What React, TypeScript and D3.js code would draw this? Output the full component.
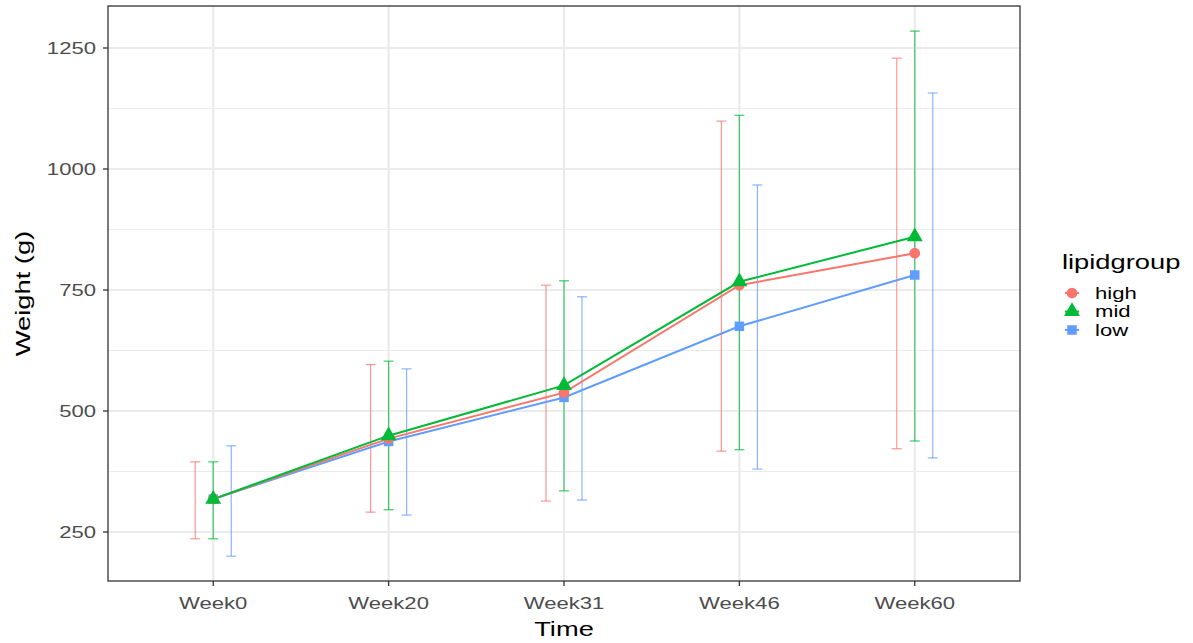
import React, { useEffect, useRef } from 'react';
import * as d3 from 'd3';

const weeks = ['Week0', 'Week20', 'Week31', 'Week46', 'Week60'];
const groups = ['high', 'mid', 'low'];
const groupColors = ['#F8766D', '#00BA38', '#619CFF'];

// mean, lower, upper per week
const highMean = [318, 443, 538, 760, 826];
const highLow = [236, 291, 314, 417, 422];
const highHigh = [395, 596, 760, 1099, 1229];

const midMean = [318, 449, 553, 767, 860];
const midLow = [236, 296, 335, 420, 438];
const midHigh = [395, 603, 769, 1111, 1285];

const lowMean = [318, 437, 528, 675, 781];
const lowLow = [200, 285, 316, 380, 403];
const lowHigh = [428, 587, 736, 967, 1157];

const yTicks = [250, 500, 750, 1000, 1250];
const yMinor = [375, 625, 875, 1125];

export default function App() {
  const svgRef = useRef<SVGSVGElement>(null);

  useEffect(() => {
    const width = 1193;
    const height = 643;
    const panel = { left: 108, right: 1020, top: 6, bottom: 581 };
    const font = "'Liberation Sans', Arial, sans-serif";
    const stretch = 1.3; // the reference text is wide, like a stretched Helvetica

    const svg = d3.select(svgRef.current);
    svg.selectAll('*').remove();
    svg.attr('width', width).attr('height', height);

    svg.append('rect').attr('width', width).attr('height', height).attr('fill', '#fff');

    const addText = (tx: number, ty: number, str: string, size: number, anchor: string, fill: string, rot = 0, dy = '0') => {
      svg.append('text')
        .attr('transform', `translate(${tx},${ty}) rotate(${rot}) scale(${stretch},1)`)
        .attr('dy', dy)
        .attr('text-anchor', anchor)
        .attr('font-family', font)
        .attr('font-size', size)
        .attr('fill', fill)
        .text(str);
    };

    const x = d3.scalePoint<string>()
      .domain(weeks)
      .range([panel.left, panel.right])
      .padding(0.6);

    const y = d3.scaleLinear()
      .domain([1250 - (panel.bottom - 48) / 0.484, 1250 + (48 - panel.top) / 0.484])
      .range([panel.bottom, panel.top]);

    const dodge = d3.scaleBand<string>()
      .domain(groups)
      .range([-27, 27]);

    // grid
    const grid = svg.append('g');
    yMinor.forEach(v => {
      grid.append('line')
        .attr('x1', panel.left).attr('x2', panel.right)
        .attr('y1', y(v)).attr('y2', y(v))
        .attr('stroke', '#EBEBEB').attr('stroke-width', 1.2);
    });
    yTicks.forEach(v => {
      grid.append('line')
        .attr('x1', panel.left).attr('x2', panel.right)
        .attr('y1', y(v)).attr('y2', y(v))
        .attr('stroke', '#EBEBEB').attr('stroke-width', 2.2);
    });
    weeks.forEach(w => {
      grid.append('line')
        .attr('x1', x(w)!).attr('x2', x(w)!)
        .attr('y1', panel.top).attr('y2', panel.bottom)
        .attr('stroke', '#EBEBEB').attr('stroke-width', 2.2);
    });

    const series = [
      { name: 'high', mean: highMean, lo: highLow, hi: highHigh },
      { name: 'mid', mean: midMean, lo: midLow, hi: midHigh },
      { name: 'low', mean: lowMean, lo: lowLow, hi: lowHigh },
    ];

    // error bars
    series.forEach((s, gi) => {
      const g = svg.append('g')
        .attr('stroke', groupColors[gi])
        .attr('stroke-opacity', 0.75)
        .attr('stroke-width', 1.2)
        .attr('fill', 'none');
      weeks.forEach((w, i) => {
        const cx = x(w)! + dodge(s.name)! + dodge.bandwidth() / 2;
        g.append('line').attr('x1', cx).attr('x2', cx).attr('y1', y(s.lo[i])).attr('y2', y(s.hi[i]));
        [s.lo[i], s.hi[i]].forEach(v => {
          g.append('line').attr('x1', cx - 5).attr('x2', cx + 5).attr('y1', y(v)).attr('y2', y(v));
        });
      });
    });

    // lines
    const line = d3.line<number>()
      .x((d, i) => x(weeks[i])!)
      .y(d => y(d));

    [2, 0, 1].forEach(gi => {
      svg.append('path')
        .datum(series[gi].mean)
        .attr('d', line)
        .attr('fill', 'none')
        .attr('stroke', groupColors[gi])
        .attr('stroke-width', 2);
    });

    // points
    const shapes = [d3.symbolCircle, d3.symbolTriangle, d3.symbolSquare];
    const sizes = [90, 110, 90];
    [2, 0, 1].forEach(gi => {
      svg.append('g').selectAll('path')
        .data(series[gi].mean)
        .join('path')
        .attr('transform', (d, i) => `translate(${x(weeks[i])},${y(d)})`)
        .attr('d', d3.symbol().type(shapes[gi]).size(sizes[gi])())
        .attr('fill', groupColors[gi]);
    });

    // panel border
    svg.append('rect')
      .attr('x', panel.left).attr('y', panel.top)
      .attr('width', panel.right - panel.left).attr('height', panel.bottom - panel.top)
      .attr('fill', 'none').attr('stroke', '#333').attr('stroke-width', 1.3);

    // y axis
    yTicks.forEach(v => {
      svg.append('line')
        .attr('x1', panel.left - 5).attr('x2', panel.left)
        .attr('y1', y(v)).attr('y2', y(v))
        .attr('stroke', '#333').attr('stroke-width', 1.3);
      addText(panel.left - 12, y(v), String(v), 17, 'end', '#4D4D4D', 0, '0.35em');
    });

    // x axis
    weeks.forEach(w => {
      svg.append('line')
        .attr('x1', x(w)!).attr('x2', x(w)!)
        .attr('y1', panel.bottom).attr('y2', panel.bottom + 5)
        .attr('stroke', '#333').attr('stroke-width', 1.3);
      addText(x(w)!, 609, w, 17, 'middle', '#4D4D4D');
    });

    addText((panel.left + panel.right) / 2, 636, 'Time', 21, 'middle', '#000');
    addText(30, (panel.top + panel.bottom) / 2, 'Weight (g)', 21, 'middle', '#000', -90);

    // legend
    addText(1062, 269, 'lipidgroup', 21, 'start', '#000');
    const legend = svg.append('g').attr('transform', 'translate(1062,0)');
    groups.forEach((gname, gi) => {
      const ly = 293 + gi * 18.5;
      legend.append('line')
        .attr('x1', 3).attr('x2', 17).attr('y1', ly).attr('y2', ly)
        .attr('stroke', groupColors[gi]).attr('stroke-width', 2);
      legend.append('path')
        .attr('transform', `translate(10,${ly})`)
        .attr('d', d3.symbol().type(shapes[gi]).size(sizes[gi])())
        .attr('fill', groupColors[gi]);
      addText(1095, ly, gname, 17, 'start', '#000', 0, '0.35em');
    });
  }, []);

  return (
    <div style={{ position: 'absolute', left: 0, top: 0 }}>
      <svg ref={svgRef} style={{ display: 'block' }} />
    </div>
  );
}
